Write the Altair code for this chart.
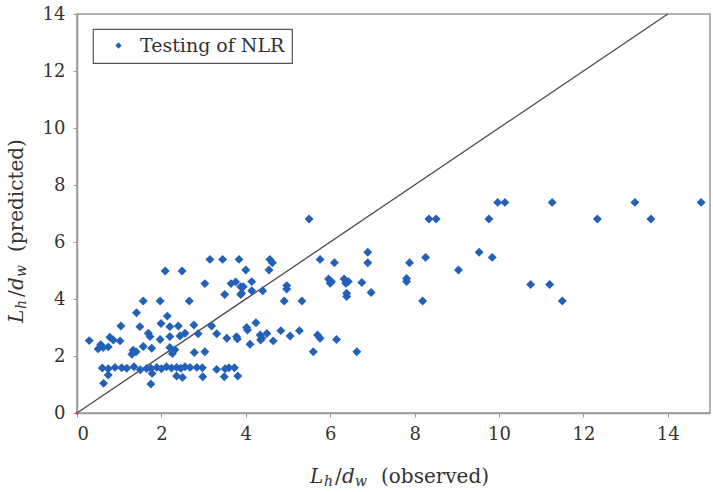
import altair as alt
import pandas as pd

# Observed vs. predicted L_h/d_w for the NLR test set
obs = [
    # x < 4 cluster
    3.15, 3.45, 3.84, 2.09, 2.49,
    3.03, 3.65, 3.76, 3.88, 3.50, 3.88,
    1.57, 1.97, 2.66, 1.41, 2.14,
    1.99, 1.04, 1.49, 2.20, 2.40, 2.77, 3.19,
    1.69, 1.73, 1.97, 2.20, 2.44, 2.56, 2.87, 3.31, 3.55, 3.78, 3.80,
    0.29, 0.78, 0.86, 1.02, 0.50, 0.62, 0.74, 0.56,
    1.33, 1.40, 1.30, 1.57, 1.77, 2.20, 2.26, 2.32, 2.78, 3.03,
    0.60, 0.74, 0.90, 1.06, 1.18, 1.35, 1.50, 1.65, 1.75, 1.89, 2.00, 2.12,
    2.24, 2.36, 2.46, 2.56, 2.68, 2.84, 2.97, 3.31, 3.51, 3.60, 3.73,
    0.74, 0.63, 1.75, 1.78, 2.36, 2.50, 2.98, 3.49, 3.81,
    # 4 <= x < 7
    4.00, 4.57, 4.63, 4.55,
    4.14, 4.14, 3.94, 3.90, 4.40,
    4.97, 4.97, 4.91, 5.33,
    5.50, 5.76, 6.10, 6.89, 6.89,
    5.96, 6.03, 6.00, 6.33, 6.43, 6.37, 6.75, 6.39, 6.39, 6.97,
    4.24, 4.02, 4.04, 4.34, 4.38, 4.50, 4.35, 4.10, 4.65, 4.83,
    5.05, 5.27, 5.70, 5.76, 6.15, 5.60, 6.63,
    # x >= 7
    7.81, 7.81, 7.88, 8.26, 9.04, 8.19, 9.53, 9.84,
    8.34, 8.51, 9.76, 12.33, 13.60,
    9.97, 10.14, 11.26, 13.22, 14.79,
    10.75, 11.20, 11.50,
]
pred = [
    5.39, 5.39, 5.39, 4.98, 4.98,
    4.54, 4.54, 4.60, 4.43, 4.16, 4.16,
    3.93, 3.93, 3.93, 3.52, 3.40,
    3.14, 3.05, 3.03, 3.03, 3.05, 3.09, 3.05,
    2.80, 2.68, 2.58, 2.68, 2.70, 2.80, 2.78, 2.78, 2.62, 2.68, 2.60,
    2.54, 2.66, 2.56, 2.53, 2.25, 2.30, 2.32, 2.40,
    2.20, 2.15, 2.06, 2.33, 2.27, 2.30, 2.09, 2.22, 2.12, 2.15,
    1.58, 1.55, 1.60, 1.59, 1.57, 1.62, 1.52, 1.56, 1.57, 1.60, 1.55, 1.62,
    1.58, 1.60, 1.57, 1.62, 1.60, 1.60, 1.59, 1.53, 1.55, 1.59, 1.59,
    1.33, 1.04, 1.02, 1.39, 1.30, 1.25, 1.27, 1.27, 1.30,
    5.02, 5.39, 5.27, 5.02,
    4.61, 4.29, 4.43, 4.20, 4.29,
    4.47, 4.35, 3.93, 3.93,
    6.81, 5.39, 5.27, 5.64, 5.27,
    4.70, 4.61, 4.55, 4.70, 4.61, 4.55, 4.58, 4.20, 4.09, 4.23,
    3.17, 3.00, 2.91, 2.74, 2.62, 2.79, 2.56, 2.41, 2.53, 2.89,
    2.70, 2.89, 2.74, 2.62, 2.58, 2.15, 2.15,
    4.72, 4.61, 5.27, 5.46, 5.02, 3.93, 5.64, 5.46,
    6.81, 6.81, 6.81, 6.81, 6.81,
    7.39, 7.39, 7.39, 7.39, 7.39,
    4.51, 4.51, 3.93,
]
series_name = "Testing of NLR"

# Line of perfect agreement
diag_x = [0, 14]
diag_y = [0, 14]

x_ticks = [0, 2, 4, 6, 8, 10, 12, 14]
y_ticks = [0, 2, 4, 6, 8, 10, 12, 14]

BLUE = "#2361b9"
FONT = "DejaVu Serif"

points_df = pd.DataFrame({"obs": obs, "pred": pred, "series": [series_name] * len(obs)})
diag_df = pd.DataFrame({"obs": diag_x, "pred": diag_y})

x_scale = alt.Scale(domain=[0, 15], nice=False, zero=False)
y_scale = alt.Scale(domain=[0, 14], nice=False, zero=False)

x_axis = alt.Axis(values=x_ticks, title=None, grid=False, tickSize=4,
                  labelPadding=8, labelFont=FONT, labelFontSize=18,
                  labelColor="#333333", tickColor="#999999",
                  domainColor="#999999", domainWidth=1.5)
y_axis = alt.Axis(values=y_ticks, title=None, grid=False, tickSize=4,
                  labelPadding=8, labelFont=FONT, labelFontSize=18,
                  labelColor="#333333", tickColor="#999999",
                  domainColor="#999999", domainWidth=1.5)

diag = alt.Chart(diag_df).mark_line(color="#4a4a4a", strokeWidth=1.3).encode(
    x=alt.X("obs:Q", scale=x_scale, axis=x_axis),
    y=alt.Y("pred:Q", scale=y_scale, axis=y_axis),
)

origin = alt.Chart(diag_df.head(1)).mark_point(
    shape="circle", filled=True, size=10, color="#cc3355", opacity=1
).encode(x=alt.X("obs:Q", scale=x_scale), y=alt.Y("pred:Q", scale=y_scale))

points = alt.Chart(points_df).mark_point(
    shape="diamond", filled=True, size=80, opacity=1
).encode(
    x=alt.X("obs:Q", scale=x_scale),
    y=alt.Y("pred:Q", scale=y_scale),
    color=alt.Color(
        "series:N",
        scale=alt.Scale(domain=[series_name], range=[BLUE]),
        legend=alt.Legend(
            title=None, orient="none", legendX=16, legendY=15,
            strokeColor="#555555", fillColor="white", padding=7,
            labelFont=FONT, labelFontSize=19, labelColor="#333333",
            symbolType="diamond", symbolSize=40, symbolStrokeWidth=0,
            labelOffset=12, symbolOffset=9,
        ),
    ),
)


def label(text, x, y, size=20, italic=False, angle=0):
    """A piece of axis-title text placed in view pixel coordinates."""
    kw = dict(text=text, font=FONT, fontSize=size, color="#333333",
              align="left", baseline="middle", angle=angle)
    if italic:
        kw["fontStyle"] = "italic"
    return alt.Chart(alt.Data(values=[{}])).mark_text(**kw).encode(
        x=alt.value(x), y=alt.value(y)
    )


# x title: L_h / d_w (observed)
xt_y = 463
x_title = [
    label("L", 233, xt_y, italic=True),
    label("h", 247, xt_y + 5, size=14, italic=True),
    label("/", 258, xt_y),
    label("d", 265, xt_y, italic=True),
    label("w", 278, xt_y + 5, size=14, italic=True),
    label("(observed)", 304, xt_y),
]

# y title: L_h / d_w (predicted), reading bottom to top
yt_x = -60
y_title = [
    label("L", yt_x, 309, italic=True, angle=270),
    label("h", yt_x + 5, 295, size=14, italic=True, angle=270),
    label("/", yt_x, 283, angle=270),
    label("d", yt_x, 276, italic=True, angle=270),
    label("w", yt_x + 5, 263, size=14, italic=True, angle=270),
    label("(predicted)", yt_x, 238, angle=270),
]

chart = alt.layer(diag, points, origin, *x_title, *y_title).properties(
    width=633,
    height=399,
    autosize=alt.AutoSizeParams(type="none"),
    padding={"left": 77, "top": 14, "right": 3, "bottom": 79},
).configure_view(
    stroke="#999999", strokeWidth=1.5
).configure_legend(
    strokeWidth=1.2
)

chart.save("out.html", embed_options={"renderer": "svg", "actions": False})
